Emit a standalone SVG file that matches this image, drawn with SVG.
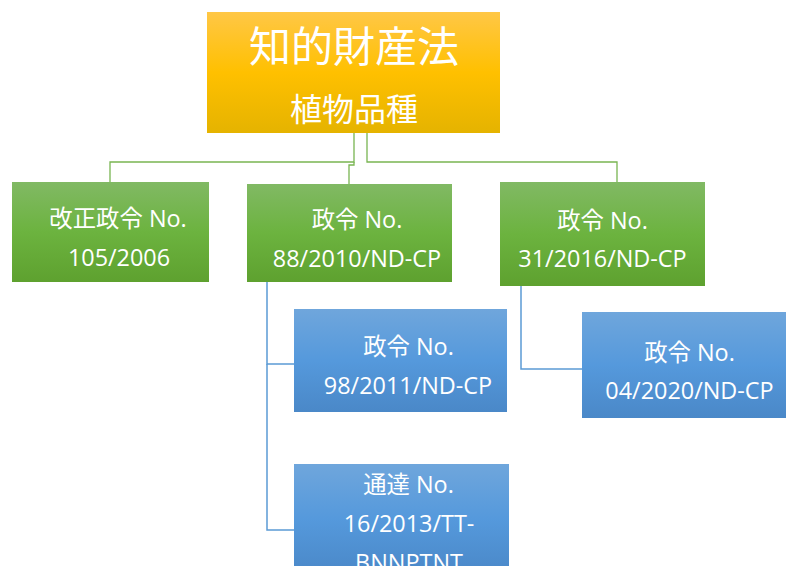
<svg xmlns="http://www.w3.org/2000/svg" width="786" height="566" viewBox="0 0 786 566">
<defs>
<linearGradient id="gGold" x1="0" y1="0" x2="0" y2="1">
<stop offset="0" stop-color="#ffc746"/><stop offset="0.5" stop-color="#ffc000"/><stop offset="1" stop-color="#e5b300"/>
</linearGradient>
<linearGradient id="gGreen" x1="0" y1="0" x2="0" y2="1">
<stop offset="0" stop-color="#81b964"/><stop offset="0.5" stop-color="#6cb33f"/><stop offset="1" stop-color="#5ea12f"/>
</linearGradient>
<linearGradient id="gBlue" x1="0" y1="0" x2="0" y2="1">
<stop offset="0" stop-color="#6fa6dc"/><stop offset="0.5" stop-color="#5599dc"/><stop offset="1" stop-color="#4a88c8"/>
</linearGradient>
</defs>
<style>
text{font-family:"Open Sans","Noto Sans CJK JP",sans-serif;fill:#ffffff;text-anchor:middle}
.t{font-size:23.4px}
.h1{font-size:42px;font-family:"Noto Sans CJK JP",sans-serif}
.h2{font-size:32px;font-family:"Noto Sans CJK JP",sans-serif}
.cg{fill:none;stroke:#79b552;stroke-width:1.3}
.cb{fill:none;stroke:#5b9bd5;stroke-width:1.5}
</style>
<rect width="786" height="566" fill="#ffffff"/>
<g id="connectors">
<polyline class="cg" points="354,133 354,162 110,162 110,182"/>
<polyline class="cg" points="367,133 367,162 617,162 617,182"/>
<polyline class="cg" points="354,162 354,165 349,165 349,184"/>
<polyline class="cb" points="267,282 267,364 294,364"/>
<polyline class="cb" points="267,364 267,530 294,530"/>
<polyline class="cb" points="521,286 521,369 582,369"/>
</g>
<g id="root">
<rect x="207" y="12" width="293" height="121" fill="url(#gGold)"/>
<text class="h1" x="354" y="62">知的財産法</text>
<text class="h2" x="354" y="121">植物品種</text>
</g>
<g id="n1">
<rect x="12" y="182" width="197" height="100" fill="url(#gGreen)"/>
<text class="t" x="118" y="227">改正政令 No.</text>
<text class="t" x="119" y="266">105/2006</text>
</g>
<g id="n2">
<rect x="247" y="184" width="205" height="98" fill="url(#gGreen)"/>
<text class="t" x="357" y="228">政令 No.</text>
<text class="t" x="357" y="267">88/2010/ND-CP</text>
</g>
<g id="n3">
<rect x="500" y="182" width="205" height="104" fill="url(#gGreen)"/>
<text class="t" x="602.5" y="229">政令 No.</text>
<text class="t" x="602.5" y="267">31/2016/ND-CP</text>
</g>
<g id="n4">
<rect x="294" y="309" width="213" height="103" fill="url(#gBlue)"/>
<text class="t" x="408.5" y="355">政令 No.</text>
<text class="t" x="408" y="394">98/2011/ND-CP</text>
</g>
<g id="n5">
<rect x="294" y="464" width="215" height="110" fill="url(#gBlue)"/>
<text class="t" x="408.5" y="493">通達 No.</text>
<text class="t" x="409" y="532">16/2013/TT-</text>
<text class="t" x="409" y="571">BNNPTNT</text>
</g>
<g id="n6">
<rect x="582" y="312" width="204" height="106" fill="url(#gBlue)"/>
<text class="t" x="689.5" y="361">政令 No.</text>
<text class="t" x="689.5" y="399">04/2020/ND-CP</text>
</g>
</svg>
